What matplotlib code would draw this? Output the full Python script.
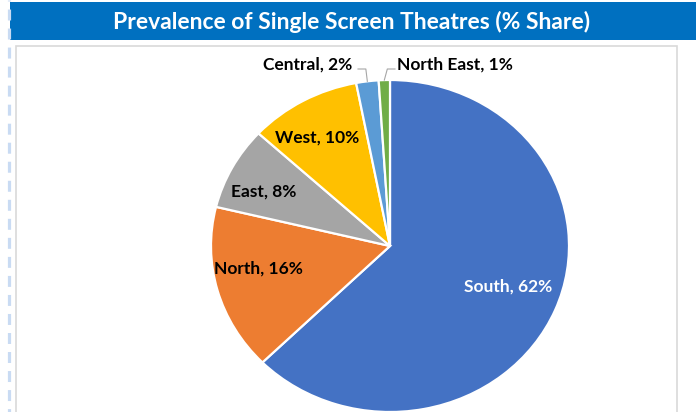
import matplotlib
matplotlib.use('Agg')
import matplotlib.pyplot as plt
from matplotlib.patches import Rectangle
import numpy as np

# ---- data ----
categories = ['South', 'North', 'East', 'West', 'Central', 'North East']
values = [62, 16, 8, 10, 2, 1]
colors = ['#4472C4', '#ED7D31', '#A5A5A5', '#FFC000', '#5B9BD5', '#70AD47']
title = 'Prevalence of Single Screen Theatres (% Share)'

# ---- layout (pixels) ----
W, H = 696, 412
CX, CY, RX, RY = 390, 246, 179, 166
label_px = [(508, 287), (258, 269), (264, 192), (317, 138), (308, 65), (455, 65)]
label_colors = ['white', 'black', 'black', 'black', 'black', 'black']

plt.rcParams['font.family'] = ['Lato', 'DejaVu Sans']
plt.rcParams['lines.scale_dashes'] = False

fig = plt.figure(figsize=(W / 100, H / 100), dpi=100)
bg = fig.add_axes([0, 0, 1, 1])
bg.set_xlim(0, W)
bg.set_ylim(H, 0)
bg.axis('off')

# title bar
bg.add_patch(Rectangle((10, 2), 686, 38, facecolor='#0070C0', edgecolor='none'))
bg.text(352, 21.5, title, color='white', fontsize=16.5, fontweight='bold',
        ha='center', va='center')
# chart area border
bg.add_patch(Rectangle((16, 46), 661, 380, facecolor='white', edgecolor='#d9d9d9', lw=1.2))
# dashed guide line on the left
bg.plot([8.5, 8.5], [0, H], color='#c9dbf3', lw=2.3,
        linestyle=(7.2, (7.9, 5.8)), solid_capstyle='butt', dash_capstyle='butt')

# pie
pax = fig.add_axes([(CX - RX) / W, (H - CY - RY) / H, 2 * RX / W, 2 * RY / H])
wedges, _ = pax.pie(values, colors=colors, startangle=90, counterclock=False, radius=1,
                    wedgeprops=dict(edgecolor='white', linewidth=1.6))
for w in wedges:
    w.set_clip_on(False)
pax.set_aspect('auto')
pax.set_xlim(-1, 1)
pax.set_ylim(-1, 1)
pax.axis('off')

# overlay for labels and leader lines
ov = fig.add_axes([0, 0, 1, 1])
ov.set_xlim(0, W)
ov.set_ylim(H, 0)
ov.axis('off')
ov.patch.set_alpha(0)

for i, (cat, val) in enumerate(zip(categories, values)):
    x, y = label_px[i]
    ov.text(x, y, f'{cat}, {val}%', color=label_colors[i], fontsize=12.5,
            fontweight='bold', ha='center', va='center', zorder=5)

# leader lines for small slices
def edge_pt(w):
    t = np.deg2rad((w.theta1 + w.theta2) / 2)
    return CX + RX * np.cos(t), CY - RY * np.sin(t)

ex, ey = edge_pt(wedges[4])
ov.plot([ex, ex - 1.5, 358], [ey, 69, 69], color='#a6a6a6', lw=0.8, zorder=6)
ex, ey = edge_pt(wedges[5])
ov.plot([ex, ex + 3, 395], [ey, 69, 69], color='#a6a6a6', lw=0.8, zorder=6)

fig.savefig('out.png', dpi=100)
